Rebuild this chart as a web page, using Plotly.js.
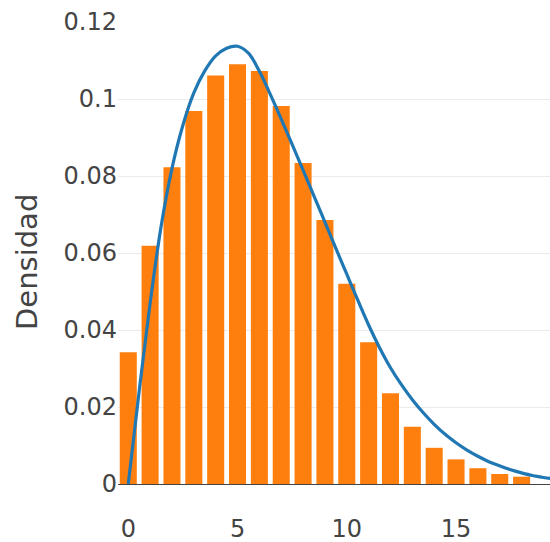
<!DOCTYPE html>
<html>
<head>
<meta charset="utf-8">
<script src="https://cdn.plot.ly/plotly-3.0.1.min.js"></script>
<style>html,body{margin:0;padding:0;background:#fff;}#chart{width:550px;height:542px;}</style>
</head>
<body>
<div id="chart"></div>
<script>
// Histogram bins (centres) and densities
var binCenters = [0, 1, 2, 3, 4, 5, 6, 7, 8, 9, 10, 11, 12, 13, 14, 15, 16, 17, 18];
var binDensity = [0.0342, 0.0619, 0.0823, 0.0969, 0.1061, 0.1090, 0.1073, 0.0982, 0.0834,
                  0.0686, 0.0520, 0.0368, 0.0236, 0.0149, 0.0094, 0.0064, 0.0041, 0.0026, 0.0019];

// Density curve
var curveX = [0, 0.5, 1, 1.5, 2, 2.5, 3, 3.5, 4, 4.5, 5, 5.5, 6, 6.5, 7, 7.5, 8, 8.5, 9, 9.5,
              10, 10.5, 11, 11.5, 12, 12.5, 13, 13.5, 14, 14.5, 15, 15.5, 16, 16.5, 17, 17.5,
              18, 18.5, 19, 19.5, 20];
var curveY = [0, 0.0242, 0.0470, 0.0668, 0.0820, 0.0932, 0.1016, 0.1073, 0.1112, 0.1132, 0.1137,
              0.1119, 0.1072, 0.1012, 0.0948, 0.0882, 0.0815, 0.0748, 0.0680, 0.0612, 0.0545,
              0.0478, 0.0413, 0.0354, 0.0302, 0.0258, 0.0219, 0.0185, 0.0155, 0.0129, 0.0107,
              0.0088, 0.0072, 0.0058, 0.0047, 0.0037, 0.0029, 0.0022, 0.0017, 0.0013, 0.0010];

var yTickVals = [0, 0.02, 0.04, 0.06, 0.08, 0.1, 0.12];
var yTickText = ['0', '0.02', '0.04', '0.06', '0.08', '0.1', '0.12'];
var xTickVals = [0, 5, 10, 15];
var yTitle = 'Densidad';

var FONT = 'DejaVu Sans, Verdana, sans-serif';

var traces = [
  {
    type: 'bar',
    x: binCenters,
    y: binDensity,
    marker: {color: '#ff7f0e'},
    hoverinfo: 'skip',
    showlegend: false
  },
  {
    type: 'scatter',
    mode: 'lines',
    x: curveX,
    y: curveY,
    line: {color: '#1f77b4', width: 3.2, shape: 'spline'},
    hoverinfo: 'skip',
    showlegend: false
  }
];

var layout = {
  width: 550,
  height: 542,
  margin: {l: 118, r: 0, t: 22, b: 58, pad: 0},
  paper_bgcolor: '#ffffff',
  plot_bgcolor: '#ffffff',
  bargap: 0.22,
  showlegend: false,
  font: {family: FONT, color: '#444', size: 24},
  xaxis: {
    range: [-0.47, 19.3],
    tickvals: xTickVals,
    ticks: '',
    showgrid: false,
    zeroline: false,
    showline: false,
    ticklabelstandoff: 28,
    tickfont: {family: FONT, size: 24, color: '#444'}
  },
  yaxis: {
    range: [0, 0.12],
    tickvals: yTickVals,
    ticktext: yTickText,
    ticks: '',
    showgrid: true,
    gridcolor: '#ebebeb',
    gridwidth: 1,
    zeroline: true,
    zerolinecolor: '#444',
    zerolinewidth: 1,
    showline: false,
    tickfont: {family: FONT, size: 24, color: '#444'}
  },
  annotations: [{
    text: yTitle,
    xref: 'paper', yref: 'paper',
    x: 0, y: 0.4805,
    xanchor: 'center', yanchor: 'middle',
    xshift: -91,
    textangle: -90,
    showarrow: false,
    font: {family: FONT, size: 29, color: '#444'}
  }]
};

Plotly.newPlot('chart', traces, layout, {displayModeBar: false, staticPlot: true});
</script>
</body>
</html>
